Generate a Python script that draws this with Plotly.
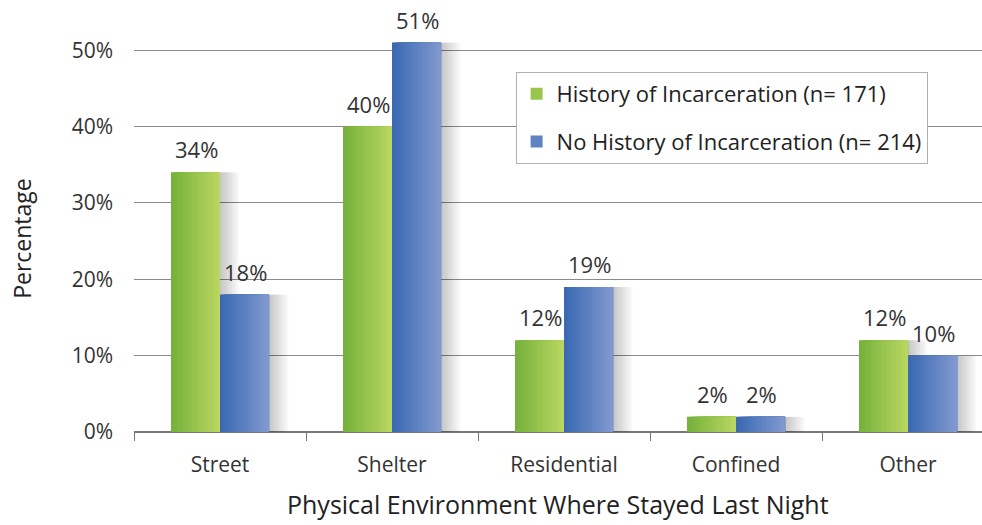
import plotly.graph_objects as go

# Data
categories = ["Street", "Shelter", "Residential", "Confined", "Other"]
incarcerated = [34, 40, 12, 2, 12]        # History of Incarceration (n= 171)
not_incarcerated = [18, 51, 19, 2, 10]    # No History of Incarceration (n= 214)
series_names = ["History of Incarceration (n= 171)",
                "No History of Incarceration (n= 214)"]
y_ticks = [0, 10, 20, 30, 40, 50]
y_tick_labels = ["0%", "10%", "20%", "30%", "40%", "50%"]

FONT = "Open Sans, DejaVu Sans, sans-serif"
BAR_W = 0.285       # width of one bar in category units
N_SLICES = 16       # layers used to paint the horizontal gradient


def lerp(c1, c2, t):
    return "rgb({},{},{})".format(*[round(a + (b - a) * t) for a, b in zip(c1, c2)])


green_stops = ((118, 178, 60), (184, 214, 96))
blue_stops = ((58, 105, 178), (128, 152, 207))

fig = go.Figure()

# soft drop shadows behind the bars
for values, start in ((incarcerated, -BAR_W), (not_incarcerated, 0.0)):
    for j in range(1, 9):
        fig.add_trace(go.Bar(
            x=categories, y=values, width=BAR_W + j * 0.011,
            offset=start + 0.003 * j, marker=dict(color="rgba(0,0,0,0.028)", line_width=0),
            showlegend=False, hoverinfo="skip"))

# gradient bars: each layer starts a little further right and covers
# everything to the bar's right edge, so no seams appear between layers
for s, (values, stops, start) in enumerate(((incarcerated, green_stops, -BAR_W),
                                            (not_incarcerated, blue_stops, 0.0))):
    w = BAR_W / N_SLICES
    for k in range(N_SLICES):
        col = lerp(stops[0], stops[1], k / (N_SLICES - 1))
        fig.add_trace(go.Bar(
            x=categories, y=values, width=BAR_W - k * w, offset=start + k * w,
            marker=dict(color=col, line_width=0),
            name=series_names[s], legendgroup=series_names[s],
            showlegend=(k == N_SLICES // 2), hoverinfo="skip"))

# value labels above bars
annotations = []
for values, shift in ((incarcerated, -24), (not_incarcerated, 25)):
    for cat, v in zip(categories, values):
        annotations.append(dict(
            x=cat, y=v, xref="x", yref="y", text=f"{v}%", showarrow=False,
            xshift=shift, yshift=6, yanchor="bottom",
            font=dict(family=FONT, size=22, color="#333333")))

# axis titles
annotations.append(dict(
    x=0.5, y=-0.172, xref="paper", yref="paper", xanchor="center", yanchor="middle",
    text="Physical Environment Where Stayed Last Night", showarrow=False,
    font=dict(family=FONT, size=25, color="#222222")))
annotations.append(dict(
    x=-0.132, y=0.46, xref="paper", yref="paper", xanchor="center", yanchor="middle",
    textangle=-90, text="Percentage", showarrow=False,
    font=dict(family=FONT, size=23, color="#222222")))

fig.update_layout(
    width=982, height=525,
    margin=dict(l=134, r=0, t=12, b=93),
    paper_bgcolor="white", plot_bgcolor="white",
    barmode="overlay",
    showlegend=True,
    legend=dict(
        x=0.45, y=0.857, xanchor="left", yanchor="top",
        bgcolor="white", bordercolor="#b0b0b0", borderwidth=1,
        font=dict(family=FONT, size=22, color="#222222"),
        traceorder="grouped", tracegroupgap=16,
        itemsizing="constant"),
    annotations=annotations,
    xaxis=dict(
        type="category", range=[-0.5, 4.43],
        tickson="boundaries", ticks="outside", ticklen=8, tickwidth=1.2,
        tickcolor="#777777", showgrid=False,
        showline=False, zeroline=False,
        tickfont=dict(family=FONT, size=21, color="#333333"),
        ticklabelstandoff=18),
    yaxis=dict(
        range=[0, 55], tickvals=y_ticks, ticktext=y_tick_labels,
        showgrid=True, gridcolor="#8a8a8a", gridwidth=1.3,
        zeroline=True, zerolinecolor="#777777", zerolinewidth=1.5,
        showline=False, ticks="",
        tickfont=dict(family=FONT, size=21, color="#333333"),
        ticklabelstandoff=20),
)

fig.write_html("out.html")
